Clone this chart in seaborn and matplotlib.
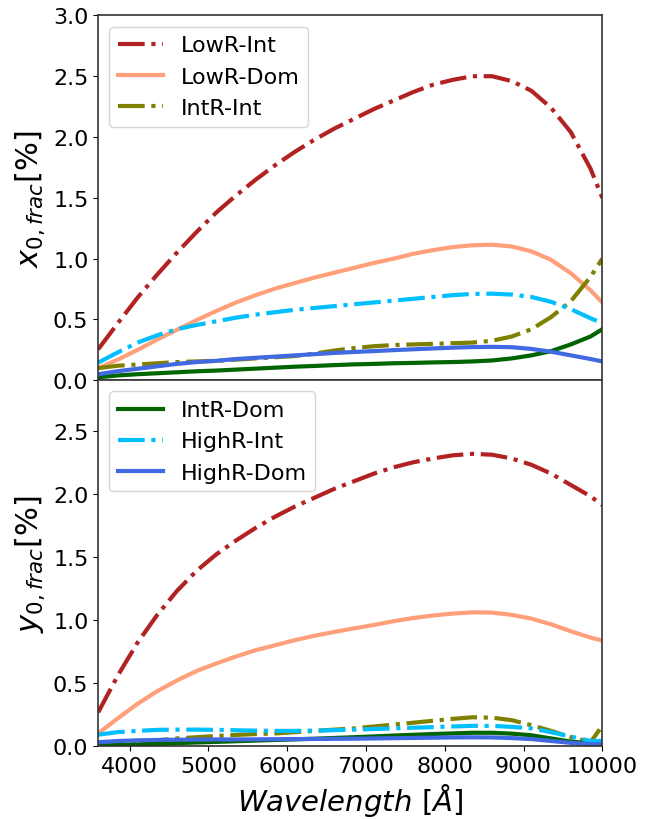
import numpy as np
import pandas as pd
import matplotlib
matplotlib.use("Agg")
import matplotlib.pyplot as plt
import seaborn as sns

wave = [3600, 3850, 4100, 4350, 4600, 4850, 5100, 5350, 5600, 5850, 6100, 6350, 6600,
        6850, 7100, 7350, 7600, 7850, 8100, 8350, 8600, 8850, 9100, 9350, 9600, 9850, 10000]

# top panel: x_{0,frac}
x_lowr_int = [0.255, 0.47, 0.68, 0.87, 1.05, 1.22, 1.38, 1.52, 1.65, 1.77, 1.88, 1.98, 2.07,
              2.15, 2.23, 2.30, 2.37, 2.43, 2.47, 2.50, 2.50, 2.46, 2.38, 2.24, 2.04, 1.74, 1.50]
x_lowr_dom = [0.10, 0.17, 0.25, 0.335, 0.415, 0.495, 0.57, 0.64, 0.70, 0.755, 0.80, 0.845, 0.885,
              0.925, 0.965, 1.00, 1.04, 1.07, 1.095, 1.11, 1.115, 1.10, 1.06, 0.99, 0.88, 0.74, 0.64]
x_intr_int = [0.10, 0.12, 0.13, 0.14, 0.15, 0.155, 0.16, 0.17, 0.18, 0.19, 0.20, 0.22, 0.245,
              0.265, 0.28, 0.29, 0.295, 0.30, 0.305, 0.31, 0.325, 0.36, 0.42, 0.52, 0.65, 0.85, 1.00]
x_intr_dom = [0.025, 0.04, 0.05, 0.058, 0.066, 0.074, 0.08, 0.088, 0.096, 0.104, 0.112, 0.118, 0.125,
              0.131, 0.135, 0.14, 0.143, 0.147, 0.15, 0.155, 0.163, 0.18, 0.205, 0.24, 0.295, 0.36, 0.42]
x_highr_int = [0.145, 0.23, 0.31, 0.37, 0.42, 0.455, 0.485, 0.515, 0.54, 0.56, 0.58, 0.595, 0.61,
               0.625, 0.64, 0.655, 0.67, 0.685, 0.70, 0.71, 0.712, 0.705, 0.685, 0.645, 0.585, 0.51, 0.47]
x_highr_dom = [0.05, 0.075, 0.095, 0.115, 0.135, 0.15, 0.16, 0.175, 0.185, 0.195, 0.205, 0.215, 0.225,
               0.233, 0.24, 0.248, 0.255, 0.262, 0.268, 0.273, 0.275, 0.272, 0.258, 0.235, 0.205, 0.175, 0.155]

# bottom panel: y_{0,frac}
y_lowr_int = [0.267, 0.56, 0.82, 1.04, 1.23, 1.39, 1.52, 1.63, 1.73, 1.82, 1.90, 1.97, 2.04,
              2.10, 2.16, 2.21, 2.25, 2.28, 2.305, 2.317, 2.31, 2.28, 2.23, 2.16, 2.07, 1.98, 1.91]
y_lowr_dom = [0.10, 0.22, 0.335, 0.435, 0.52, 0.595, 0.655, 0.71, 0.76, 0.80, 0.84, 0.875, 0.905,
              0.933, 0.96, 0.99, 1.015, 1.035, 1.05, 1.06, 1.058, 1.04, 1.01, 0.965, 0.91, 0.86, 0.836]
y_intr_int = [0.005, 0.015, 0.03, 0.045, 0.06, 0.07, 0.08, 0.088, 0.095, 0.10, 0.11, 0.12, 0.13,
              0.14, 0.155, 0.17, 0.185, 0.20, 0.215, 0.228, 0.225, 0.205, 0.165, 0.12, 0.07, 0.03, 0.16]
y_intr_dom = [0.003, 0.008, 0.013, 0.018, 0.023, 0.028, 0.033, 0.038, 0.043, 0.048, 0.053, 0.058, 0.064,
              0.07, 0.076, 0.083, 0.089, 0.095, 0.10, 0.105, 0.105, 0.098, 0.085, 0.06, 0.035, 0.02, 0.02]
y_highr_int = [0.09, 0.11, 0.12, 0.128, 0.13, 0.13, 0.128, 0.125, 0.122, 0.12, 0.12, 0.122, 0.126,
               0.13, 0.135, 0.14, 0.145, 0.15, 0.155, 0.16, 0.16, 0.152, 0.14, 0.11, 0.075, 0.04, 0.04]
y_highr_dom = [0.03, 0.04, 0.045, 0.048, 0.05, 0.051, 0.052, 0.052, 0.053, 0.054, 0.055, 0.056, 0.057,
               0.058, 0.06, 0.062, 0.064, 0.066, 0.068, 0.069, 0.068, 0.063, 0.055, 0.04, 0.025, 0.015, 0.015]

names = ["LowR-Int", "LowR-Dom", "IntR-Int", "IntR-Dom", "HighR-Int", "HighR-Dom"]
colors = ["firebrick", "lightsalmon", "olive", "darkgreen", "deepskyblue", "royalblue"]
styles = ["-.", "-", "-.", "-", "-.", "-"]

top_vals = [x_lowr_int, x_lowr_dom, x_intr_int, x_intr_dom, x_highr_int, x_highr_dom]
bot_vals = [y_lowr_int, y_lowr_dom, y_intr_int, y_intr_dom, y_highr_int, y_highr_dom]

fig = plt.figure(figsize=(6.59, 8.2), dpi=100)
ax1 = fig.add_axes([0.149, 0.535, 0.765, 0.445])
ax2 = fig.add_axes([0.149, 0.089, 0.765, 0.446], sharex=ax1)

for ax, vals in [(ax1, top_vals), (ax2, bot_vals)]:
    for n, c, s, v in zip(names, colors, styles, vals):
        df = pd.DataFrame({"w": wave, "v": v})
        sns.lineplot(data=df, x="w", y="v", ax=ax, color=c, linestyle=s,
                     linewidth=3, label=n, legend=False)

ax2.axhline(0, color="black", linestyle="--", linewidth=1)

ax1.set_xlim(3600, 10000)
ax1.set_ylim(0, 3.0)
ax2.set_ylim(0, 2.9)
ax1.set_yticks([0.0, 0.5, 1.0, 1.5, 2.0, 2.5, 3.0])
ax2.set_yticks([0.0, 0.5, 1.0, 1.5, 2.0, 2.5])
ax2.set_xticks([4000, 5000, 6000, 7000, 8000, 9000, 10000])
plt.setp(ax1.get_xticklabels(), visible=False)
ax1.tick_params(axis="x", length=0)

for ax in (ax1, ax2):
    ax.tick_params(labelsize=16)
    for sp in ax.spines.values():
        sp.set_color("#333333")
        sp.set_linewidth(1.2)

ax1.set_xlabel("")
ax1.set_ylabel(r"$x_{0,frac}[\%]$", fontsize=22)
ax2.set_ylabel(r"$y_{0,frac}[\%]$", fontsize=22)
ax2.set_xlabel(r"$Wavelength\ [\AA]$", fontsize=21)

h1, l1 = ax1.get_legend_handles_labels()
ax1.legend(h1[:3], l1[:3], loc="upper left", fontsize=16)
h2, l2 = ax2.get_legend_handles_labels()
ax2.legend(h2[3:6], l2[3:6], loc="upper left", fontsize=16)

fig.savefig("out.png", dpi=100)
